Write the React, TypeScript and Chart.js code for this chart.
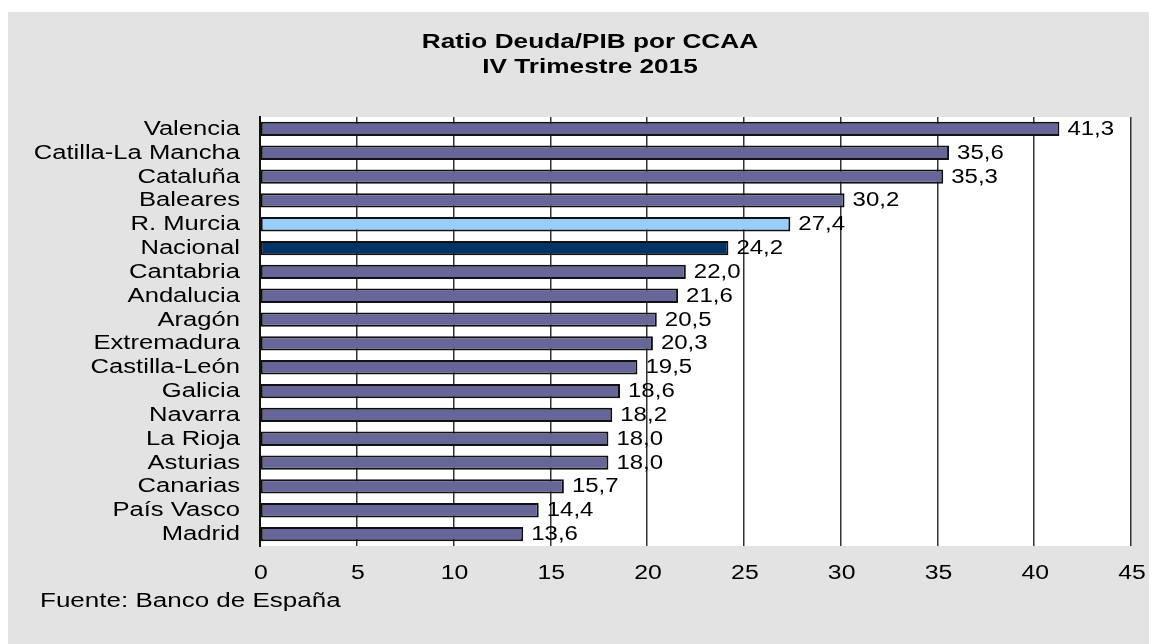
import React, { useEffect, useRef } from "react";
import { Chart, registerables } from "chart.js";

Chart.register(...registerables);

const categories = [
  "Valencia", "Catilla-La Mancha", "Cataluña", "Baleares", "R. Murcia", "Nacional",
  "Cantabria", "Andalucia", "Aragón", "Extremadura", "Castilla-León", "Galicia",
  "Navarra", "La Rioja", "Asturias", "Canarias", "País Vasco", "Madrid",
];
const values = [41.3, 35.6, 35.3, 30.2, 27.4, 24.2, 22.0, 21.6, 20.5, 20.3, 19.5, 18.6, 18.2, 18.0, 18.0, 15.7, 14.4, 13.6];
const titleLines = ["Ratio Deuda/PIB por CCAA", "IV Trimestre 2015"];
const sourceText = "Fuente: Banco de España";
const xMin = 0;
const xMax = 45;
const xStep = 5;

const BAR = "#666699";
const MURCIA = "#99ccff";
const NACIONAL = "#003366";
const BG = "#e3e3e3";
const FONT = "'Liberation Sans', Arial, sans-serif";

function stretchText(ctx: CanvasRenderingContext2D, text: string, x: number, y: number, sx: number, align: CanvasTextAlign) {
  ctx.save();
  ctx.translate(x, y);
  ctx.scale(sx, 1);
  ctx.textAlign = align;
  ctx.textBaseline = "alphabetic";
  ctx.fillText(text, 0, 0);
  ctx.restore();
}

export default function App() {
  const ref = useRef<HTMLCanvasElement | null>(null);
  useEffect(() => {
    if (!ref.current) return;
    const colors = categories.map((c) => (c === "R. Murcia" ? MURCIA : c === "Nacional" ? NACIONAL : BAR));
    const decor = {
      id: "decor",
      beforeDraw(chart: any) {
        const { ctx, chartArea } = chart;
        ctx.save();
        ctx.fillStyle = "#ffffff";
        ctx.fillRect(chartArea.left, chartArea.top, chartArea.right - chartArea.left, chartArea.bottom - chartArea.top);
        ctx.restore();
      },
      afterDraw(chart: any) {
        const { ctx, chartArea } = chart;
        ctx.save();
        ctx.fillStyle = "#000";
        // title
        ctx.font = `bold 20px ${FONT}`;
        stretchText(ctx, titleLines[0], 582, 36, 1.31, "center");
        stretchText(ctx, titleLines[1], 582, 61, 1.31, "center");
        // category labels
        ctx.font = `20px ${FONT}`;
        const ys = chart.scales.y;
        categories.forEach((c, i) => {
          stretchText(ctx, c, chartArea.left - 20, ys.getPixelForValue(i) + 6, 1.28, "right");
        });
        // x tick labels
        const xs = chart.scales.x;
        xs.ticks.forEach((t: any, i: number) => {
          stretchText(ctx, String(t.value), xs.getPixelForTick(i) + 1, 567, 1.24, "center");
        });
        // value labels
        const meta = chart.getDatasetMeta(0);
        meta.data.forEach((bar: any, i: number) => {
          stretchText(ctx, values[i].toFixed(1).replace(".", ","), bar.x + 8, bar.y + 6, 1.2, "left");
        });
        // source
        stretchText(ctx, sourceText, 32, 595, 1.3, "left");
        ctx.restore();
      },
    };
    const chart = new Chart(ref.current, {
      type: "bar",
      data: {
        labels: categories,
        datasets: [
          {
            data: values,
            backgroundColor: colors,
            borderColor: "#111",
            borderWidth: 2,
            borderSkipped: false,
            barPercentage: 0.6,
            categoryPercentage: 1,
          },
        ],
      },
      options: {
        indexAxis: "y",
        animation: false,
        responsive: false,
        devicePixelRatio: 1,
        layout: { padding: { top: 105, right: 26, left: 0, bottom: 58 } },
        plugins: { legend: { display: false }, tooltip: { enabled: false }, title: { display: false } },
        scales: {
          x: {
            min: xMin,
            max: xMax,
            ticks: { stepSize: xStep, display: false },
            grid: { color: "#333", lineWidth: 1.5, drawTicks: false },
            border: { display: false },
            afterFit(scale: any) {
              scale.height = 40;
            },
          },
          y: {
            ticks: { display: false, autoSkip: false },
            grid: { display: false, drawTicks: false },
            border: { display: true, color: "#111", width: 2 },
            afterFit(scale: any) {
              scale.width = 252;
            },
          },
        },
      },
      plugins: [decor],
    });
    return () => chart.destroy();
  }, []);
  return (
    <div style={{ width: 1149, height: 632, marginTop: 4, background: BG }}>
      <canvas ref={ref} width={1149} height={632} style={{ display: "block" }} />
    </div>
  );
}
